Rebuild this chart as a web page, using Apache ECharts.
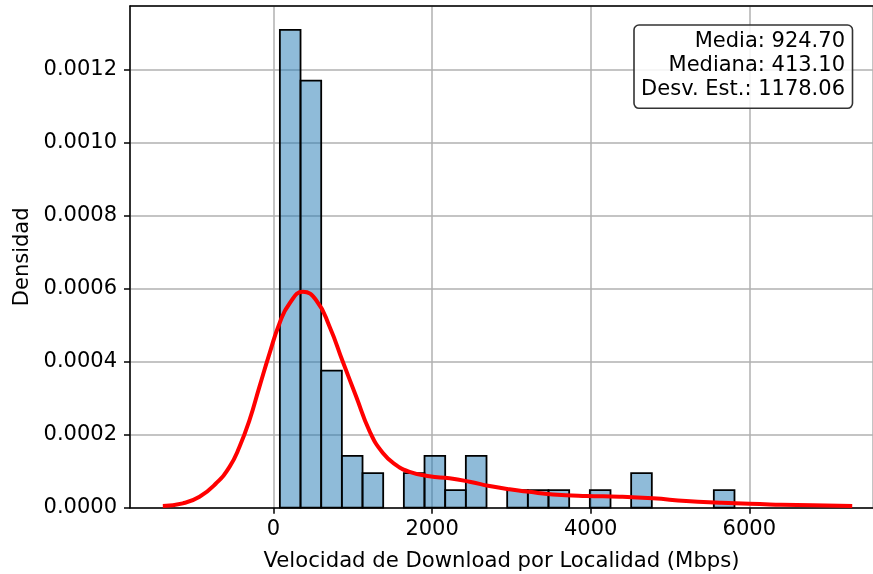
<!DOCTYPE html>
<html>
<head>
<meta charset="utf-8">
<script src="https://cdn.jsdelivr.net/npm/echarts@6/dist/echarts.min.js"></script>
<style>
  html, body { margin: 0; padding: 0; background: #fff; }
  #main { width: 873px; height: 574px; }
</style>
</head>
<body>
<div id="main"></div>
<script>
// bordes de los bins del histograma (Mbps)
const binEdges = [80, 340.6, 601.2, 861.8, 1122.4, 1383, 1643.6, 1904.2, 2164.8, 2425.4, 2686,
  2946.6, 3207.2, 3467.8, 3728.4, 3989, 4249.6, 4510.2, 4770.8, 5031.4, 5292, 5552.6, 5813.2];
// densidad de cada bin
const binDensity = [0.001310, 0.001171, 0.000376, 0.000142, 0.000095, 0, 0.000095, 0.000142,
  0.000048, 0.000142, 0, 0.000048, 0.000048, 0.000048, 0, 0.000048, 0, 0.000095, 0, 0, 0, 0.000048];
// curva KDE
const kdeX = [-1396, -1144, -933, -723, -555, -429, -303, -177, -50, 76, 202, 370, 538, 706, 874,
  1042, 1211, 1379, 1547, 1715, 1967, 2219, 2472, 2724, 2976, 3228, 3522, 3943, 4363, 4783,
  5204, 5624, 6000, 6400, 6800, 7298];
const kdeY = [0.0000047, 0.000012, 0.00003, 0.000067, 0.000112, 0.000167, 0.00024, 0.000332,
  0.000423, 0.000506, 0.00056, 0.000592, 0.000569, 0.000497, 0.0004, 0.000305,
  0.000210, 0.000150, 0.000117, 0.0000985, 0.000086, 0.0000806, 0.0000713, 0.0000595, 0.0000504,
  0.0000435, 0.0000365, 0.000032, 0.0000302, 0.0000258, 0.0000184, 0.0000137, 0.0000105,
  0.0000083, 0.0000064, 0.0000047];
const statsLines = ['Media: 924.70', 'Mediana: 413.10', 'Desv. Est.: 1178.06'];

const font = 'DejaVu Sans';
const chart = echarts.init(document.getElementById('main'));

const histData = binDensity.map((d, i) => [binEdges[i], binEdges[i + 1], d]);
const kdeData = kdeX.map((x, i) => [x, kdeY[i]]);

const xMin = -1810, xMax = 7560;

const option = {
  animation: false,
  grid: { left: 130, right: 0, top: 6, bottom: 66.3, outerBoundsMode: 'none', containLabel: false },
  xAxis: [
    {
      type: 'value', min: xMin, max: xMax, splitNumber: 5,
      name: 'Velocidad de Download por Localidad (Mbps)',
      nameLocation: 'middle', nameGap: 43,
      nameTextStyle: { fontFamily: font, fontSize: 21.2, color: '#000' },
      axisLine: { onZero: false, lineStyle: { color: '#000', width: 1.5 } },
      axisTick: { show: true, length: 6, lineStyle: { color: '#000', width: 1.5 } },
      axisLabel: { fontFamily: font, fontSize: 21, color: '#000', margin: 11,
        showMinLabel: false, showMaxLabel: false, formatter: v => String(v) },
      splitLine: { show: true, lineStyle: { color: '#b0b0b0', width: 1.5 } }
    },
    {
      // linea superior del marco
      type: 'value', min: xMin, max: xMax, position: 'top',
      axisLine: { show: true, onZero: false, lineStyle: { color: '#000', width: 1.5 } },
      axisTick: { show: false }, axisLabel: { show: false }, splitLine: { show: false }
    }
  ],
  yAxis: {
    type: 'value', min: 0, max: 0.0013755, interval: 0.0002,
    name: 'Densidad', nameLocation: 'middle', nameGap: 93,
    nameTextStyle: { fontFamily: font, fontSize: 21, color: '#000' },
    axisLine: { show: true, onZero: false, lineStyle: { color: '#000', width: 1.5 } },
    axisTick: { show: true, length: 6, lineStyle: { color: '#000', width: 1.5 } },
    axisLabel: { fontFamily: font, fontSize: 21, color: '#000', margin: 13,
      showMaxLabel: false, formatter: v => v.toFixed(4) },
    splitLine: { show: true, lineStyle: { color: '#b0b0b0', width: 1.5 } }
  },
  series: [
    {
      type: 'custom',
      data: histData,
      encode: { x: [0, 1], y: 2 },
      renderItem: function (params, api) {
        if (api.value(2) === 0) return null;
        const p0 = api.coord([api.value(0), api.value(2)]);
        const p1 = api.coord([api.value(1), 0]);
        return {
          type: 'rect',
          shape: { x: p0[0], y: p0[1], width: p1[0] - p0[0], height: p1[1] - p0[1] },
          style: { fill: 'rgba(31,119,180,0.5)', stroke: '#000', lineWidth: 1.8 }
        };
      },
      z: 3
    },
    {
      type: 'line',
      data: kdeData,
      smooth: 0.5,
      showSymbol: false,
      lineStyle: { color: '#ff0000', width: 4 },
      z: 5
    }
  ],
  graphic: [
    {
      type: 'rect', z: 100,
      shape: { x: 634, y: 25, width: 218.5, height: 83.3, r: 5 },
      style: { fill: 'rgba(255,255,255,0.85)', stroke: '#333', lineWidth: 1.6 }
    },
    {
      type: 'text', z: 101, x: 845, y: 29,
      style: {
        text: statsLines.join('\n'), align: 'right', verticalAlign: 'top',
        font: '21px "DejaVu Sans"', lineHeight: 24.3, fill: '#000'
      }
    }
  ]
};

chart.setOption(option);
</script>
</body>
</html>
